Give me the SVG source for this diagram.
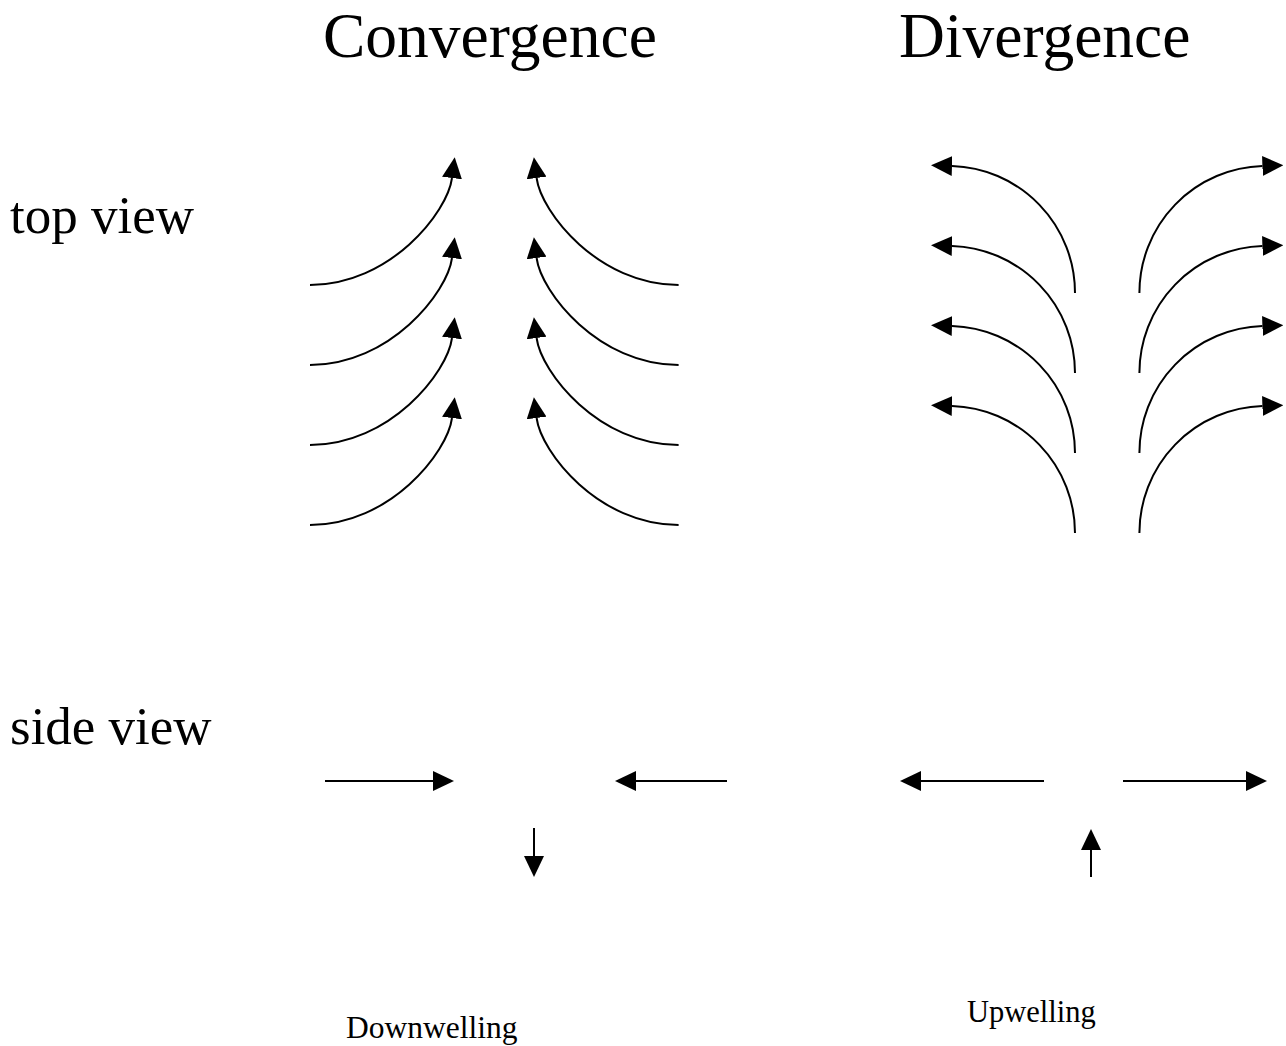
<svg xmlns="http://www.w3.org/2000/svg" width="1286" height="1046" viewBox="0 0 1286 1046">
<style>
  .t { font-family: "Liberation Serif", "Times New Roman", serif; fill: #000; }
  .a { fill: none; stroke: #000; stroke-width: 2; marker-end: url(#ah); }
</style>
<defs>
  <marker id="ah" markerUnits="userSpaceOnUse" markerWidth="21" markerHeight="20" refX="0" refY="10" orient="auto" viewBox="0 0 21 20">
    <path d="M0,0 L21,10 L0,20 z" fill="#000"/>
  </marker>
  <path id="conv" class="a" d="M310,285 C390,285 447.5,212.5 452,178"/>
  <path id="div" class="a" d="M1075,293 A127,127 0 0 0 952,166"/>
</defs>
<rect width="1286" height="1046" fill="#fff"/>
<g id="labels">
  <text class="t" x="323" y="57" font-size="63.5">Convergence</text>
  <text class="t" x="899" y="57" font-size="63.5">Divergence</text>
  <text class="t" x="10" y="233" font-size="53">top view</text>
  <text class="t" x="10" y="744" font-size="53">side view</text>
  <text class="t" x="346" y="1038" font-size="31.5">Downwelling</text>
  <text class="t" x="967" y="1022" font-size="30.5">Upwelling</text>
</g>
<g id="connectors">
  <g id="convergence-top">
    <use href="#conv"/>
    <use href="#conv" transform="translate(0,80)"/>
    <use href="#conv" transform="translate(0,160)"/>
    <use href="#conv" transform="translate(0,240)"/>
    <g transform="translate(988.6,0) scale(-1,1)">
      <use href="#conv"/>
      <use href="#conv" transform="translate(0,80)"/>
      <use href="#conv" transform="translate(0,160)"/>
      <use href="#conv" transform="translate(0,240)"/>
    </g>
  </g>
  <g id="divergence-top">
    <use href="#div"/>
    <use href="#div" transform="translate(0,80)"/>
    <use href="#div" transform="translate(0,160)"/>
    <use href="#div" transform="translate(0,240)"/>
    <g transform="translate(2214.4,0) scale(-1,1)">
      <use href="#div"/>
      <use href="#div" transform="translate(0,80)"/>
      <use href="#div" transform="translate(0,160)"/>
      <use href="#div" transform="translate(0,240)"/>
    </g>
  </g>
  <g id="side-view">
    <path class="a" d="M325,781 H433"/>
    <path class="a" d="M727,781 H636"/>
    <path class="a" d="M534,828 V856"/>
    <path class="a" d="M1044,781 H921"/>
    <path class="a" d="M1123,781 H1246"/>
    <path class="a" d="M1091,877 V850"/>
  </g>
</g>
</svg>
